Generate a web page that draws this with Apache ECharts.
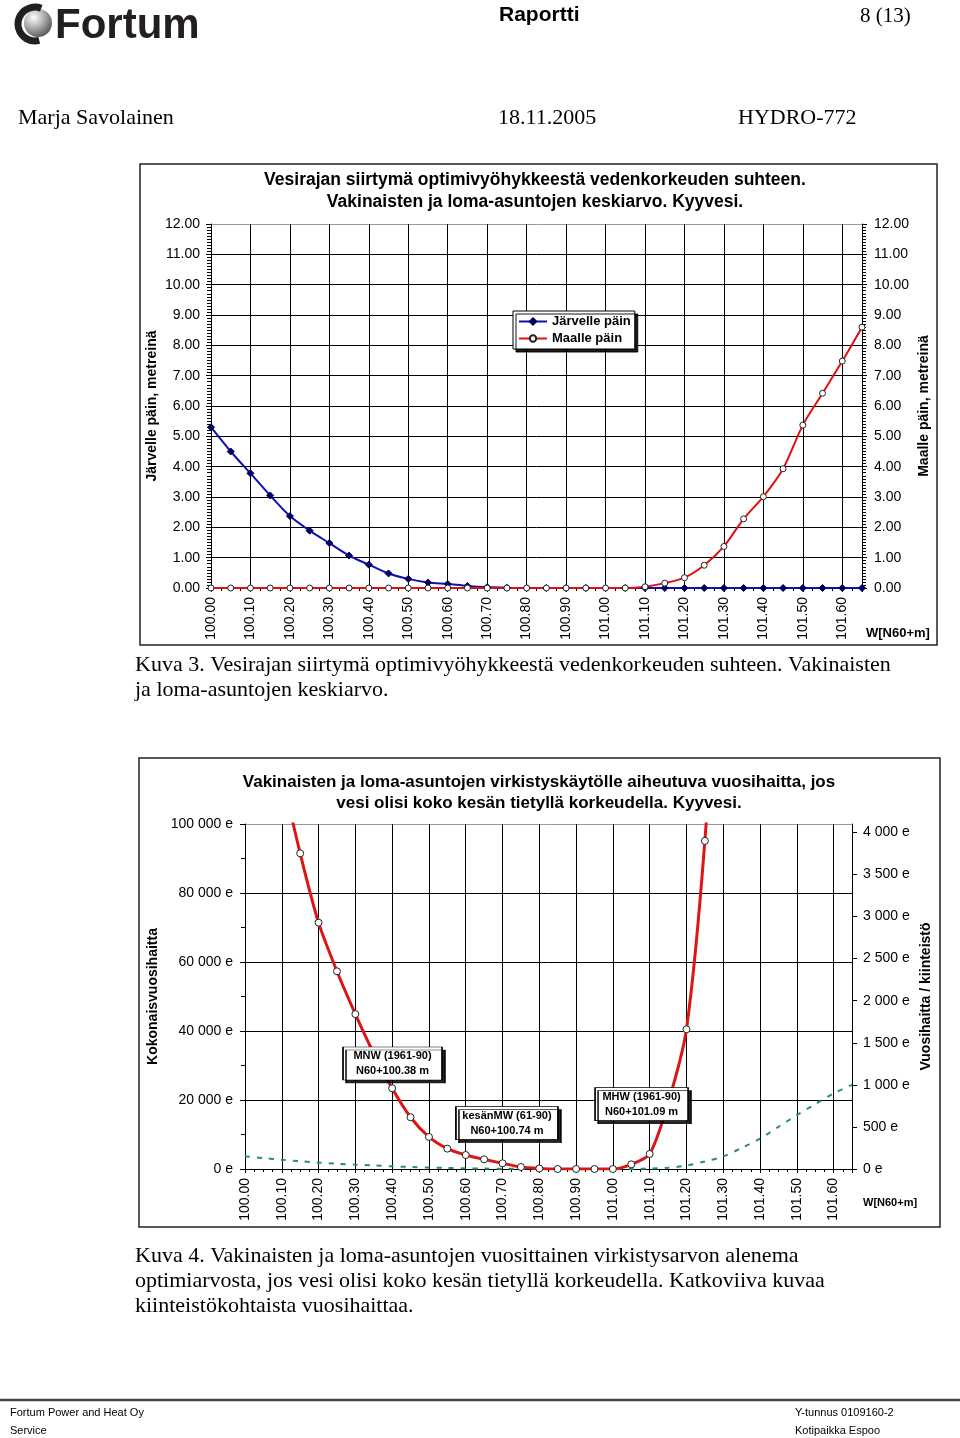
<!DOCTYPE html>
<html>
<head>
<meta charset="utf-8">
<script src="https://cdn.jsdelivr.net/npm/echarts@6/dist/echarts.min.js"></script>
<style>
html,body{margin:0;padding:0;background:#fff;}
#c{width:960px;height:1438px;}
</style>
</head>
<body>
<div id="c"></div>
<script>
// ---------- DATA ----------
const levels = [100.00,100.05,100.10,100.15,100.20,100.25,100.30,100.35,100.40,100.45,100.50,100.55,100.60,100.65,100.70,100.75,100.80,100.85,100.90,100.95,101.00,101.05,101.10,101.15,101.20,101.25,101.30,101.35,101.40,101.45,101.50,101.55,101.60,101.65];

// Chart 1 (metres)
const jarvellePain = [5.30,4.50,3.78,3.05,2.37,1.89,1.48,1.07,0.77,0.48,0.30,0.18,0.13,0.07,0.03,0.01,0,0,0,0,0,0,0,0,0,0,0,0,0,0,0,0,0,0];
const maallePain   = [0,0,0,0,0,0,0,0,0,0,0,0,0,0,0,0,0,0,0,0,0,0,0.04,0.16,0.34,0.75,1.37,2.28,3.01,3.93,5.37,6.42,7.48,8.60];

// Chart 2 (euros)
const kokonaisHaitta = [175000,142000,115000,91500,71400,57300,44900,33500,23400,15000,9300,5900,4050,2800,1650,580,150,0,0,0,0,1350,4350,19000,40500,95100,180000,300000,450000,650000,900000,1200000,1600000,2000000];
const kiinteistoHaitta = [150,130,110,92,76,63,52,42,32,24,17,12,8,5,3,1,0,0,0,0,0,0,5,15,40,90,150,250,360,500,640,770,900,1000];

// Annotations in chart 2 (data coordinates of the label boxes)
const annotTexts = ['MNW (1961-90)\nN60+100.38 m', 'kesänMW (61-90)\nN60+100.74 m', 'MHW (1961-90)\nN60+101.09 m'];
const annotX = [100.401, 100.712, 101.078];
const annotY = [30600, 13300, 18800];
const annotW = [99, 102, 93];

// Texts
const title1 = ['Vesirajan siirtymä optimivyöhykkeestä vedenkorkeuden suhteen.', 'Vakinaisten ja loma-asuntojen keskiarvo. Kyyvesi.'];
const title2 = ['Vakinaisten ja loma-asuntojen virkistyskäytölle aiheutuva vuosihaitta, jos', 'vesi olisi koko kesän tietyllä korkeudella. Kyyvesi.'];
const caption1 = ['Kuva 3. Vesirajan siirtymä optimivyöhykkeestä vedenkorkeuden suhteen. Vakinaisten', 'ja loma-asuntojen keskiarvo.'];
const caption2 = ['Kuva 4. Vakinaisten ja loma-asuntojen vuosittainen virkistysarvon alenema', 'optimiarvosta, jos vesi olisi koko kesän tietyllä korkeudella. Katkoviiva kuvaa', 'kiinteistökohtaista vuosihaittaa.'];

// ---------- HELPERS ----------
const SANS = 'Liberation Sans, Arial, sans-serif';
const SERIF = 'Liberation Serif, Times New Roman, serif';
const pairs = (ys) => levels.map((x, i) => [x, ys[i]]);
const fmtE = (v) => String(Math.round(v)).replace(/\B(?=(\d{3})+(?!\d))/g, ' ') + ' e';
function txt(text, x, y, font, align, fill) {
  return {
    type: 'text', silent: true,
    style: { text: text, x: x, y: y, font: font, fill: fill || '#000', textAlign: align || 'left', textVerticalAlign: 'middle' }
  };
}
function gridColors(n) { const a = []; for (let i = 0; i < n - 1; i++) a.push('#000'); a.push('#999'); return a; }

const graphics = [];
// logo
graphics.push({ type: 'circle', silent: true, shape: { cx: 38, cy: 23, r: 14 },
  style: { fill: new echarts.graphic.RadialGradient(0.35, 0.3, 0.8, [{ offset: 0, color: '#ffffff' }, { offset: 0.5, color: '#a8a8a8' }, { offset: 1, color: '#4a4a4a' }]) } });
graphics.push({ type: 'arc', silent: true, shape: { cx: 35, cy: 24, r: 17, startAngle: Math.PI * 0.42, endAngle: Math.PI * 1.62, clockwise: true },
  style: { stroke: '#231f20', lineWidth: 7, fill: null } });
graphics.push(txt('Fortum', 55, 26, 'bold 42px ' + SANS, 'left', '#231f20'));
// header
graphics.push(txt('Raportti', 499, 15, 'bold 21px ' + SANS));
graphics.push(txt('8 (13)', 860, 16, '21px ' + SERIF));
graphics.push(txt('Marja Savolainen', 18, 118, '22px ' + SERIF));
graphics.push(txt('18.11.2005', 498, 118, '22px ' + SERIF));
graphics.push(txt('HYDRO-772', 738, 118, '22px ' + SERIF));
// frames
graphics.push({ type: 'rect', silent: true, shape: { x: 140, y: 164, width: 797, height: 481 },
  style: { fill: null, stroke: '#222', lineWidth: 1.5 } });
graphics.push({ type: 'rect', silent: true, shape: { x: 139, y: 758, width: 801, height: 469 },
  style: { fill: null, stroke: '#222', lineWidth: 1.5 } });
// chart titles
graphics.push(txt(title1[0], 535, 180, 'bold 17.5px ' + SANS, 'center'));
graphics.push(txt(title1[1], 535, 202, 'bold 17.5px ' + SANS, 'center'));
graphics.push(txt(title2[0], 539, 782, 'bold 17px ' + SANS, 'center'));
graphics.push(txt(title2[1], 539, 803, 'bold 17px ' + SANS, 'center'));
graphics.push(txt('W[N60+m]', 866, 633, 'bold 13px ' + SANS));
graphics.push(txt('W[N60+m]', 863, 1203, 'bold 11px ' + SANS));
// captions
caption1.forEach((t, i) => graphics.push(txt(t, 135, 665 + i * 25, '22px ' + SERIF)));
caption2.forEach((t, i) => graphics.push(txt(t, 135, 1256 + i * 25, '22px ' + SERIF)));
// footer
graphics.push({ type: 'line', silent: true, shape: { x1: 0, y1: 1400, x2: 960, y2: 1400 }, style: { stroke: '#444', lineWidth: 2.5 } });
graphics.push(txt('Fortum Power and Heat Oy', 10, 1413, '11px ' + SANS));
graphics.push(txt('Service', 10, 1431, '11px ' + SANS));
graphics.push(txt('Y-tunnus 0109160-2', 795, 1413, '11px ' + SANS));
graphics.push(txt('Kotipaikka Espoo', 795, 1431, '11px ' + SANS));

const axisLabelBase = { color: '#000', fontFamily: SANS, fontSize: 14 };
const blackLine = { lineStyle: { color: '#000', width: 1 } };
const nameStyle = { color: '#000', fontFamily: SANS, fontSize: 14, fontWeight: 'bold' };

const option = {
  animation: false,
  backgroundColor: '#fff',
  graphic: { elements: graphics },
  legend: {
    data: ['Järvelle päin', 'Maalle päin'],
    orient: 'vertical', left: 513, top: 311,
    backgroundColor: '#fff', borderColor: '#000', borderWidth: 1,
    padding: [4, 4, 4, 5], itemGap: 4, itemWidth: 28, itemHeight: 8,
    shadowColor: 'rgba(0,0,0,0.9)', shadowBlur: 0, shadowOffsetX: 3, shadowOffsetY: 3,
    textStyle: { color: '#000', fontFamily: SANS, fontSize: 13, fontWeight: 'bold' }
  },
  grid: [
    { left: 211, top: 224, width: 651, height: 364 },
    { left: 245, top: 824, width: 607, height: 345 }
  ],
  xAxis: [
    { type: 'value', gridIndex: 0, min: 100, max: 101.65, interval: 0.1,
      axisLine: blackLine, axisTick: { show: true, length: 4, lineStyle: { color: '#000' } },
      minorTick: { show: true, splitNumber: 4, length: 3, lineStyle: { color: '#000' } },
      splitLine: { show: true, lineStyle: { color: '#000', width: 1 } },
      axisLabel: Object.assign({}, axisLabelBase, { rotate: 90, margin: 9, showMaxLabel: false, formatter: v => v.toFixed(2) }) },
    { type: 'value', gridIndex: 1, min: 100, max: 101.65, interval: 0.1,
      axisLine: blackLine, axisTick: { show: true, length: 4, lineStyle: { color: '#000' } },
      minorTick: { show: true, splitNumber: 4, length: 3, lineStyle: { color: '#000' } },
      splitLine: { show: true, lineStyle: { color: '#000', width: 1 } },
      axisLabel: Object.assign({}, axisLabelBase, { rotate: 90, margin: 9, showMaxLabel: false, formatter: v => v.toFixed(2) }) }
  ],
  yAxis: [
    { type: 'value', gridIndex: 0, position: 'left', min: 0, max: 12, interval: 1,
      name: 'Järvelle päin, metreinä', nameLocation: 'middle', nameRotate: 90, nameGap: 52, nameMoveOverlap: false,
      nameTextStyle: nameStyle,
      axisLine: { show: true, lineStyle: { color: '#000' } },
      axisTick: { show: true, length: 5, lineStyle: { color: '#000' } },
      minorTick: { show: true, splitNumber: 10, length: 4, lineStyle: { color: '#000' } },
      splitLine: { show: true, lineStyle: { color: gridColors(13), width: 1 } },
      axisLabel: Object.assign({}, axisLabelBase, { margin: 11, formatter: v => v.toFixed(2) }) },
    { type: 'value', gridIndex: 0, position: 'right', min: 0, max: 12, interval: 1,
      name: 'Maalle päin, metreinä', nameLocation: 'middle', nameRotate: 90, nameGap: 55, nameMoveOverlap: false,
      nameTextStyle: nameStyle,
      axisLine: { show: true, lineStyle: { color: '#000' } },
      axisTick: { show: true, length: 5, lineStyle: { color: '#000' } },
      minorTick: { show: true, splitNumber: 10, length: 4, lineStyle: { color: '#000' } },
      splitLine: { show: false },
      axisLabel: Object.assign({}, axisLabelBase, { margin: 12, formatter: v => v.toFixed(2) }) },
    { type: 'value', gridIndex: 1, position: 'left', min: 0, max: 100000, interval: 20000,
      name: 'Kokonaisvuosihaitta', nameLocation: 'middle', nameRotate: 90, nameGap: 85, nameMoveOverlap: false,
      nameTextStyle: nameStyle,
      axisLine: { show: true, lineStyle: { color: '#000' } },
      axisTick: { show: true, length: 5, lineStyle: { color: '#000' } },
      minorTick: { show: true, splitNumber: 2, length: 4, lineStyle: { color: '#000' } },
      splitLine: { show: true, lineStyle: { color: gridColors(6), width: 1 } },
      axisLabel: Object.assign({}, axisLabelBase, { margin: 12, formatter: fmtE }) },
    { type: 'value', gridIndex: 1, position: 'right', min: 0, max: 4100, interval: 500,
      name: 'Vuosihaitta / kiinteistö', nameLocation: 'middle', nameRotate: 90, nameGap: 67, nameMoveOverlap: false,
      nameTextStyle: nameStyle,
      axisLine: { show: true, lineStyle: { color: '#000' } },
      axisTick: { show: true, length: 5, lineStyle: { color: '#000' } },
      splitLine: { show: false },
      axisLabel: Object.assign({}, axisLabelBase, { margin: 11, showMaxLabel: false, formatter: fmtE }) }
  ],
  series: [
    { name: 'Järvelle päin', type: 'line', xAxisIndex: 0, yAxisIndex: 0, data: pairs(jarvellePain),
      smooth: 0.3, symbol: 'diamond', symbolSize: 7,
      lineStyle: { color: '#1010b0', width: 2 }, itemStyle: { color: '#000060', borderColor: '#000060', borderWidth: 1 } },
    { name: 'Maalle päin', type: 'line', xAxisIndex: 0, yAxisIndex: 1, data: pairs(maallePain),
      smooth: 0.3, symbol: 'circle', symbolSize: 6,
      lineStyle: { color: '#e01010', width: 2 }, itemStyle: { color: '#fff', borderColor: '#222', borderWidth: 1 } },
    { name: 'Vuosihaitta / kiinteistö', type: 'line', xAxisIndex: 1, yAxisIndex: 3, data: pairs(kiinteistoHaitta),
      smooth: 0.3, symbol: 'none',
      lineStyle: { color: '#2a8a7e', width: 2, type: [5, 7] } },
    { name: 'Kokonaisvuosihaitta', type: 'line', xAxisIndex: 1, yAxisIndex: 2, data: pairs(kokonaisHaitta),
      smooth: 0.25, symbol: 'circle', symbolSize: 7, clip: true,
      lineStyle: { color: '#dd1515', width: 3 }, itemStyle: { color: '#fff', borderColor: '#222', borderWidth: 1 },
      markPoint: {
        silent: true,
        data: annotTexts.map((t, i) => ({
          coord: [annotX[i], annotY[i]], value: t,
          symbol: 'rect', symbolSize: [annotW[i], 33],
          itemStyle: { color: '#fff', borderColor: '#000', borderWidth: 1, shadowColor: 'rgba(0,0,0,0.85)', shadowBlur: 0, shadowOffsetX: 3, shadowOffsetY: 3 },
          label: { show: true, position: 'inside', formatter: t, color: '#000', fontFamily: SANS, fontSize: 11, fontWeight: 'bold', lineHeight: 15, align: 'center' }
        }))
      } }
  ]
};

const chart = echarts.init(document.getElementById('c'), null, { renderer: 'canvas' });
chart.setOption(option);
</script>
</body>
</html>
